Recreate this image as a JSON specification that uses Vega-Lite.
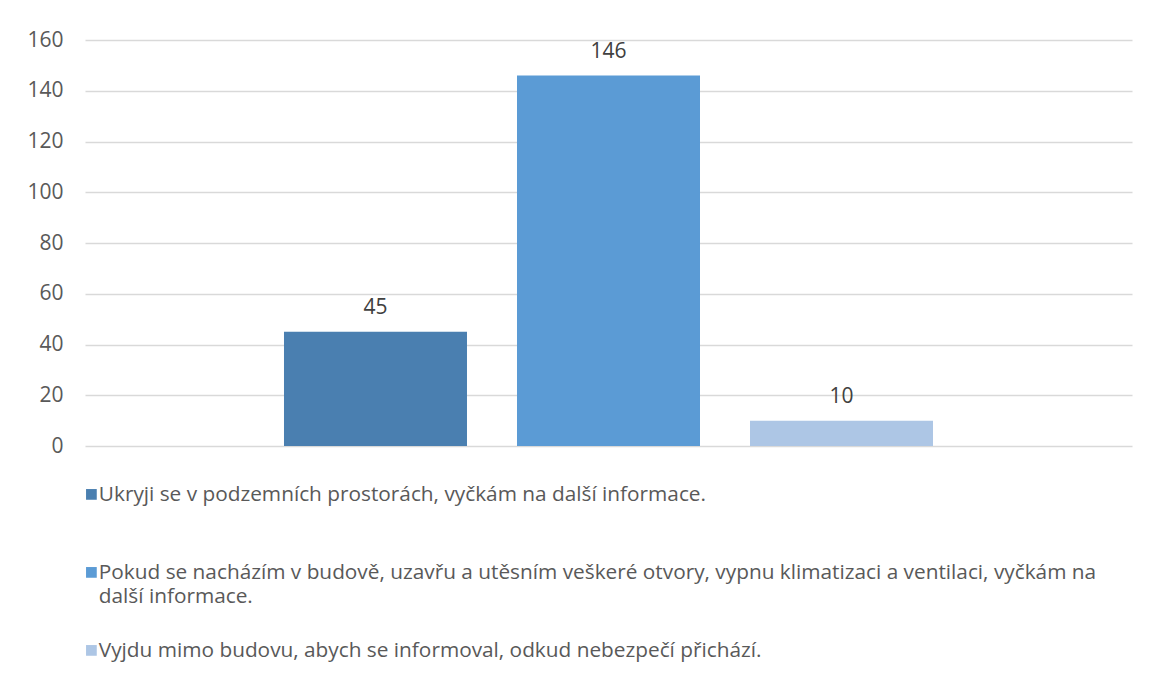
{
  "$schema": "https://vega.github.io/schema/vega-lite/v6.json",
  "width": 1047,
  "height": 406,
  "autosize": {"type": "none"},
  "padding": {"left": 85, "top": 40, "right": 17, "bottom": 229},
  "background": "white",
  "config": {"view": {"stroke": null}, "font": "Open Sans"},
  "data": {
    "values": [
      {"answer": "Ukryji se v podzemních prostorách, vyčkám na další informace.", "count": 45},
      {"answer": "Pokud se nacházím v budově, uzavřu a utěsním veškeré otvory, vypnu klimatizaci a ventilaci, vyčkám na další informace.", "count": 146},
      {"answer": "Vyjdu mimo budovu, abych se informoval, odkud nebezpečí přichází.", "count": 10}
    ]
  },
  "encoding": {
    "x": {
      "field": "answer",
      "type": "nominal",
      "sort": null,
      "scale": {"paddingInner": 0.2146, "paddingOuter": 0.854},
      "axis": null
    },
    "y": {
      "field": "count",
      "type": "quantitative",
      "scale": {"domain": [0, 160]},
      "axis": {
        "title": null,
        "values": [0, 20, 40, 60, 80, 100, 120, 140, 160],
        "ticks": false,
        "domain": false,
        "labelPadding": 22,
        "labelFontSize": 21,
        "labelColor": "#595959",
        "gridColor": "#d9d9d9",
        "gridWidth": 1.3
      }
    }
  },
  "layer": [
    {
      "mark": {"type": "bar"},
      "encoding": {
        "color": {
          "field": "answer",
          "type": "nominal",
          "sort": null,
          "scale": {
            "domain": [
              "Ukryji se v podzemních prostorách, vyčkám na další informace.",
              "Pokud se nacházím v budově, uzavřu a utěsním veškeré otvory, vypnu klimatizaci a ventilaci, vyčkám na další informace.",
              "Vyjdu mimo budovu, abych se informoval, odkud nebezpečí přichází."
            ],
            "range": ["#4a7fb0", "#5b9bd5", "#adc6e5"]
          },
          "legend": {
            "title": null,
            "orient": "none",
            "legendX": -4,
            "legendY": 444,
            "direction": "vertical",
            "symbolType": "square",
            "symbolSize": 115,
            "symbolStrokeWidth": 0,
            "symbolOpacity": 1,
            "labelFontSize": 20.8,
            "labelColor": "#595959",
            "labelLimit": 1100,
            "labelOffset": -3,
            "labelBaseline": "top",
            "gridAlign": "all",
            "rowPadding": 32,
            "labelExpr": "indexof(datum.label, 'Pokud') == 0 ? ['Pokud se nacházím v budově, uzavřu a utěsním veškeré otvory, vypnu klimatizaci a ventilaci, vyčkám na', 'další informace.'] : datum.label",
            "encode": {
              "labels": {"update": {"lineHeight": {"value": 24}, "dy": {"value": -9}}}
            }
          }
        }
      }
    },
    {
      "mark": {"type": "text", "dy": -18, "baseline": "alphabetic", "fontSize": 21, "color": "#404040"},
      "encoding": {"text": {"field": "count", "type": "quantitative"}}
    }
  ]
}
